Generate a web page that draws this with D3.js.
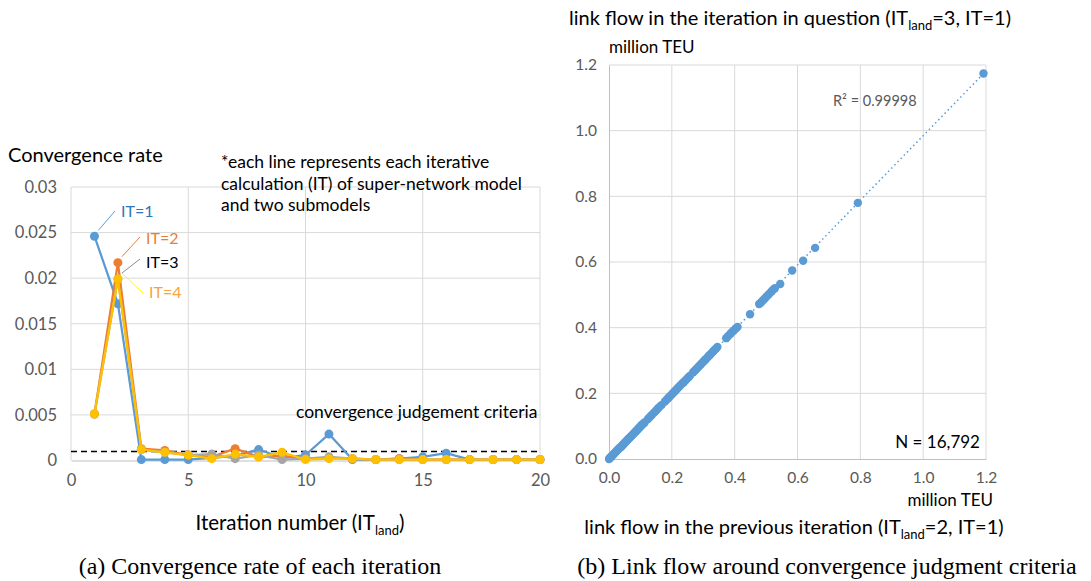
<!DOCTYPE html>
<html>
<head>
<meta charset="utf-8">
<script src="https://cdn.jsdelivr.net/npm/d3@7"></script>
<style>
  body { margin: 0; background: #fff; }
  text { font-family: Lato, "Open Sans", sans-serif; }
  .cap { font-family: "Liberation Serif", "Times New Roman", serif; }
</style>
</head>
<body>
<svg id="chart"></svg>
<script>
// ---- data: convergence rate by iteration (left chart) ----
var iterations = [1, 2, 3, 4, 5, 6, 7, 8, 9, 10, 11, 12, 13, 14, 15, 16, 17, 18, 19, 20];
var rateIT1 = [0.0246, 0.0172, 0.0001, 0.0001, 0.0001, 0.0003, 0.0005, 0.0012, 0.0003, 0.0006, 0.0029, 0.0001, 0.0001, 0.0002, 0.0004, 0.0008, 0.0001, 0.0001, 0.0001, 0.0001];
var rateIT2 = [0.0051, 0.0217, 0.0013, 0.0011, 0.0006, 0.0004, 0.0013, 0.0004, 0.0005, 0.0002, 0.0003, 0.0002, 0.0001, 0.0002, 0.0001, 0.0001, 0.0001, 0.0001, 0.0001, 0.0001];
var rateIT3 = [0.0051, 0.0199, 0.0012, 0.0009, 0.0006, 0.0007, 0.0002, 0.0006, 0.0001, 0.0002, 0.0004, 0.0002, 0.0001, 0.0001, 0.0001, 0.0001, 0.0001, 0.0001, 0.0001, 0.0001];
var rateIT4 = [0.0051, 0.0199, 0.0012, 0.0009, 0.0006, 0.0002, 0.0007, 0.0004, 0.0009, 0.0001, 0.0002, 0.0002, 0.0001, 0.0001, 0.0001, 0.0001, 0.0001, 0.0001, 0.0001, 0.0001];
var criteria = 0.001;
var leftXTicks = [0, 5, 10, 15, 20];
var leftYTicks = [0, 0.005, 0.01, 0.015, 0.02, 0.025, 0.03];
var leftYLabels = ["0", "0.005", "0.01", "0.015", "0.02", "0.025", "0.03"];

// ---- data: link flow, previous vs current iteration (right chart), million TEU ----
var prevFlow = [0.000, 0.002, 0.004, 0.006, 0.008, 0.010, 0.013, 0.016, 0.019, 0.022, 0.025, 0.028, 0.031, 0.034, 0.037, 0.040, 0.043, 0.046, 0.049, 0.052,
  0.055, 0.058, 0.061, 0.064, 0.067, 0.070, 0.073, 0.076, 0.079, 0.082, 0.085, 0.088, 0.091, 0.094, 0.097, 0.100, 0.103, 0.106, 0.110, 0.114,
  0.124, 0.128, 0.133, 0.138, 0.144, 0.150, 0.155, 0.160, 0.167,
  0.178, 0.183, 0.187, 0.191, 0.195, 0.199, 0.203, 0.207, 0.211, 0.215, 0.219, 0.223, 0.228, 0.233, 0.238, 0.243, 0.248, 0.253, 0.258,
  0.268, 0.272, 0.276, 0.280, 0.284, 0.288, 0.292, 0.296, 0.300, 0.304, 0.308, 0.312, 0.316, 0.320, 0.324, 0.328, 0.332, 0.336, 0.340, 0.345,
  0.373, 0.378, 0.383, 0.388, 0.393, 0.398, 0.404, 0.409,
  0.449,
  0.478, 0.483, 0.488, 0.493, 0.498, 0.503, 0.508, 0.513, 0.518, 0.523, 0.528,
  0.545, 0.583, 0.618, 0.656, 0.792, 1.192];
var currFlow = [0.000, 0.002, 0.004, 0.006, 0.008, 0.010, 0.013, 0.016, 0.019, 0.022, 0.025, 0.028, 0.031, 0.034, 0.036, 0.039, 0.042, 0.045, 0.048, 0.051,
  0.054, 0.057, 0.060, 0.063, 0.066, 0.069, 0.072, 0.075, 0.078, 0.081, 0.084, 0.087, 0.090, 0.093, 0.096, 0.099, 0.102, 0.105, 0.108, 0.112,
  0.122, 0.126, 0.131, 0.136, 0.142, 0.148, 0.153, 0.158, 0.164,
  0.175, 0.180, 0.184, 0.188, 0.192, 0.196, 0.200, 0.204, 0.208, 0.212, 0.216, 0.220, 0.225, 0.230, 0.234, 0.239, 0.244, 0.249, 0.254,
  0.264, 0.268, 0.272, 0.276, 0.280, 0.284, 0.288, 0.292, 0.296, 0.300, 0.304, 0.308, 0.312, 0.316, 0.320, 0.324, 0.328, 0.332, 0.336, 0.341,
  0.368, 0.373, 0.378, 0.383, 0.388, 0.392, 0.398, 0.402,
  0.441,
  0.472, 0.476, 0.481, 0.486, 0.491, 0.496, 0.501, 0.506, 0.511, 0.516, 0.520,
  0.533, 0.574, 0.604, 0.643, 0.780, 1.174];
var rightTicks = [0, 0.2, 0.4, 0.6, 0.8, 1.0, 1.2];

var svg = d3.select("#chart").attr("width", 1091).attr("height", 581);

var gridColor = "#D9D9D9";
var axisColor = "#BFBFBF";
var tickColor = "#595959";

// ================= left chart =================
var xL = d3.scaleLinear().domain([0, 20]).range([71, 540]);
var yL = d3.scaleLinear().domain([0, 0.03]).range([460.5, 187]);

var left = svg.append("g");

// gridlines
left.selectAll(".hgrid").data(leftYTicks.slice(1)).enter().append("line")
  .attr("x1", xL(0)).attr("x2", xL(20))
  .attr("y1", function(d) { return yL(d); }).attr("y2", function(d) { return yL(d); })
  .attr("stroke", gridColor).attr("stroke-width", 1);
left.selectAll(".vgrid").data(leftXTicks).enter().append("line")
  .attr("x1", function(d) { return xL(d); }).attr("x2", function(d) { return xL(d); })
  .attr("y1", yL(0)).attr("y2", yL(0.03))
  .attr("stroke", gridColor).attr("stroke-width", 1);

// axes
var lxAxis = left.append("g")
  .attr("transform", "translate(0," + yL(0) + ")")
  .call(d3.axisBottom(xL).tickValues(leftXTicks).tickSize(0).tickPadding(14));
lxAxis.select(".domain").attr("stroke", axisColor);
lxAxis.selectAll("text").attr("fill", tickColor).style("font-size", "16.5px");

var lyAxis = left.append("g")
  .attr("transform", "translate(" + xL(0) + ",0)")
  .call(d3.axisLeft(yL).tickValues(leftYTicks).tickSize(0).tickPadding(14)
    .tickFormat(function(d, i) { return leftYLabels[i]; }));
lyAxis.select(".domain").remove();
lyAxis.selectAll("text").attr("fill", tickColor).style("font-size", "16.5px");

// criteria line
left.append("line")
  .attr("x1", xL(0)).attr("x2", xL(20))
  .attr("y1", yL(criteria)).attr("y2", yL(criteria))
  .attr("stroke", "#000").attr("stroke-width", 1.5).attr("stroke-dasharray", "6,4");

var seriesL = [
  { name: "IT=1", values: rateIT1, color: "#5B9BD5" },
  { name: "IT=2", values: rateIT2, color: "#ED7D31" },
  { name: "IT=3", values: rateIT3, color: "#A5A5A5" },
  { name: "IT=4", values: rateIT4, color: "#FFC000" }
];

var line = d3.line()
  .x(function(d) { return xL(d.x); })
  .y(function(d) { return yL(d.y); });

seriesL.forEach(function(s) {
  var pts = iterations.map(function(it, i) { return { x: it, y: s.values[i] }; });
  left.append("path").datum(pts)
    .attr("d", line).attr("fill", "none")
    .attr("stroke", s.color).attr("stroke-width", 2.25).attr("stroke-linejoin", "round");
  left.selectAll(null).data(pts).enter().append("circle")
    .attr("cx", function(d) { return xL(d.x); })
    .attr("cy", function(d) { return yL(d.y); })
    .attr("r", 4.5).attr("fill", s.color);
});

// series labels with leader lines
var labelsL = [
  { text: "IT=1", color: "#2E75B6", lead: "#5B9BD5", it: 1, v: rateIT1[0], lx: 115, ly: 211, tx: 121, ty: 217 },
  { text: "IT=2", color: "#ED7D31", lead: "#ED7D31", it: 2, v: rateIT2[1], lx: 140, ly: 237, tx: 146, ty: 244 },
  { text: "IT=3", color: "#000000", lead: "#8C8C8C", it: 2, v: rateIT3[1], lx: 140, ly: 259, tx: 146, ty: 268 },
  { text: "IT=4", color: "#F8A33C", lead: "#FFFF00", it: 2, v: rateIT4[1], lx: 143, ly: 293, tx: 149, ty: 298 }
];
labelsL.forEach(function(l) {
  left.append("line")
    .attr("x1", xL(l.it) + 4).attr("y1", yL(l.v) - 6)
    .attr("x2", l.lx).attr("y2", l.ly)
    .attr("stroke", l.lead).attr("stroke-width", 1);
  left.append("text").attr("x", l.tx).attr("y", l.ty)
    .attr("fill", l.color).style("font-size", "16px").text(l.text);
});

// texts
left.append("text").attr("x", 8).attr("y", 162)
  .style("font-size", "20px").attr("fill", "#000").text("Convergence rate");
var note = ["*each line represents each iterative", "calculation (IT) of super-network model", "and two submodels"];
left.selectAll(".note").data(note).enter().append("text")
  .attr("x", 221).attr("y", function(d, i) { return 168 + i * 21.5; })
  .style("font-size", "17.5px").attr("fill", "#000").text(function(d) { return d; });
left.append("text").attr("x", 296).attr("y", 418)
  .style("font-size", "17.5px").attr("fill", "#000").text("convergence judgement criteria");

var lxt = left.append("text").attr("x", 300).attr("y", 530).attr("text-anchor", "middle")
  .style("font-size", "20.5px").attr("fill", "#000");
lxt.append("tspan").text("Iteration number (IT");
lxt.append("tspan").attr("dy", 5).style("font-size", "13px").text("land");
lxt.append("tspan").attr("dy", -5).text(")");

left.append("text").attr("class", "cap").attr("x", 260).attr("y", 574).attr("text-anchor", "middle")
  .style("font-size", "24px").attr("fill", "#000").text("(a) Convergence rate of each iteration");

// ================= right chart =================
var xR = d3.scaleLinear().domain([0, 1.2]).range([609, 986]);
var yR = d3.scaleLinear().domain([0, 1.2]).range([459, 65]);

var right = svg.append("g");

right.selectAll(".hgrid").data(rightTicks.slice(1)).enter().append("line")
  .attr("x1", xR(0)).attr("x2", xR(1.2))
  .attr("y1", function(d) { return yR(d); }).attr("y2", function(d) { return yR(d); })
  .attr("stroke", gridColor).attr("stroke-width", 1);
right.selectAll(".vgrid").data(rightTicks.slice(1)).enter().append("line")
  .attr("x1", function(d) { return xR(d); }).attr("x2", function(d) { return xR(d); })
  .attr("y1", yR(0)).attr("y2", yR(1.2))
  .attr("stroke", gridColor).attr("stroke-width", 1);

var rxAxis = right.append("g")
  .attr("transform", "translate(0," + yR(0) + ")")
  .call(d3.axisBottom(xR).tickValues(rightTicks).tickSize(0).tickPadding(13).tickFormat(d3.format(".1f")));
rxAxis.select(".domain").attr("stroke", axisColor);
rxAxis.selectAll("text").attr("fill", tickColor).style("font-size", "15.5px");

var ryAxis = right.append("g")
  .attr("transform", "translate(" + xR(0) + ",0)")
  .call(d3.axisLeft(yR).tickValues(rightTicks).tickSize(0).tickPadding(12).tickFormat(d3.format(".1f")));
ryAxis.select(".domain").attr("stroke", axisColor);
ryAxis.selectAll("text").attr("fill", tickColor).style("font-size", "15.5px");

// least squares trendline
var n = prevFlow.length;
var mx = d3.mean(prevFlow), my = d3.mean(currFlow);
var sxy = 0, sxx = 0;
for (var i = 0; i < n; i++) {
  sxy += (prevFlow[i] - mx) * (currFlow[i] - my);
  sxx += (prevFlow[i] - mx) * (prevFlow[i] - mx);
}
var slope = sxy / sxx, intercept = my - slope * mx;
var xMin = d3.min(prevFlow), xMax = d3.max(prevFlow);

var pointsR = prevFlow.map(function(d, i) { return { x: d, y: currFlow[i] }; });
right.selectAll(".pt").data(pointsR).enter().append("circle")
  .attr("cx", function(d) { return xR(d.x); })
  .attr("cy", function(d) { return yR(d.y); })
  .attr("r", 4.2).attr("fill", "#5B9BD5");

right.append("line")
  .attr("x1", xR(xMin)).attr("y1", yR(intercept + slope * xMin))
  .attr("x2", xR(xMax)).attr("y2", yR(intercept + slope * xMax))
  .attr("stroke", "#5B9BD5").attr("stroke-width", 1.5).attr("stroke-dasharray", "1.5,3");

right.append("text").attr("x", 833).attr("y", 106)
  .style("font-size", "14.5px").attr("fill", tickColor).text("R² = 0.99998");
right.append("text").attr("x", 980).attr("y", 448).attr("text-anchor", "end")
  .style("font-size", "17px").attr("fill", "#000").text("N = 16,792");

right.append("text").attr("x", 609).attr("y", 53)
  .style("font-size", "17px").attr("fill", "#000").text("million TEU");
right.append("text").attr("x", 993).attr("y", 506).attr("text-anchor", "end")
  .style("font-size", "17px").attr("fill", "#000").text("million TEU");

var rt = right.append("text").attr("x", 790).attr("y", 25).attr("text-anchor", "middle")
  .style("font-size", "20px").attr("fill", "#000");
rt.append("tspan").text("link flow in the iteration in question (IT");
rt.append("tspan").attr("dy", 5).style("font-size", "13px").text("land");
rt.append("tspan").attr("dy", -5).text("=3, IT=1)");

var rb = right.append("text").attr("x", 794).attr("y", 534).attr("text-anchor", "middle")
  .style("font-size", "20px").attr("fill", "#000");
rb.append("tspan").text("link flow in the previous iteration (IT");
rb.append("tspan").attr("dy", 5).style("font-size", "13px").text("land");
rb.append("tspan").attr("dy", -5).text("=2, IT=1)");

right.append("text").attr("class", "cap").attr("x", 827).attr("y", 574).attr("text-anchor", "middle")
  .style("font-size", "24px").attr("fill", "#000").text("(b) Link flow around convergence judgment criteria");
</script>
</body>
</html>
